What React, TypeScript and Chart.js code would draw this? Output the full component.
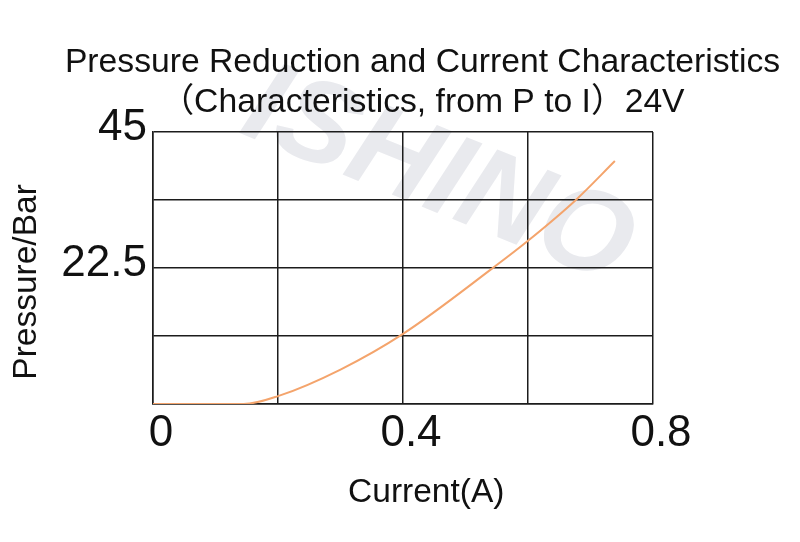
import React, { useEffect, useRef } from "react";
import { Chart, registerables } from "chart.js";

Chart.register(...registerables);

const currentA = [0, 0.145, 0.2, 0.3, 0.4, 0.545, 0.6, 0.677, 0.739];
const pressureBar = [0, 0, 1.3, 5.7, 11.6, 22.6, 27.0, 33.8, 40.2];
const xTickLabels = ["0", "0.4", "0.8"];
const yTickLabels = ["22.5", "45"];
const titleLines = [
  "Pressure Reduction and Current Characteristics",
  "（Characteristics, from P to I）24V",
];
const xAxisTitle = "Current(A)";
const yAxisTitle = "Pressure/Bar";
const watermarkText = "ISHINO";

const FONT = "'Liberation Sans', Arial, 'Noto Sans CJK SC', sans-serif";

const watermarkPlugin = {
  id: "watermark",
  beforeDraw(chart: any) {
    const ctx = chart.ctx;
    ctx.save();
    ctx.translate(438, 178);
    ctx.rotate((22 * Math.PI) / 180);
    ctx.font = `italic bold 118px ${FONT}`;
    ctx.fillStyle = "#e9eaee";
    ctx.textAlign = "center";
    ctx.textBaseline = "middle";
    ctx.fillText(watermarkText, 0, 0);
    ctx.restore();
  },
};

export default function App() {
  const ref = useRef<HTMLCanvasElement | null>(null);
  useEffect(() => {
    if (!ref.current) return;
    const match = (v: number, labels: string[]) => {
      const hit = labels.find((l) => Math.abs(parseFloat(l) - v) < 1e-6);
      return hit === undefined ? "" : hit;
    };
    const chart = new Chart(ref.current, {
      type: "line",
      data: {
        datasets: [
          {
            data: currentA.map((x, i) => ({ x, y: pressureBar[i] })),
            borderColor: "#f4a46c",
            borderWidth: 2,
            pointRadius: 0,
            tension: 0.4,
            cubicInterpolationMode: "monotone",
            fill: false,
          },
        ],
      },
      options: {
        animation: false,
        responsive: false,
        layout: { padding: { left: 45, right: 0, top: 0, bottom: 0 } },
        plugins: {
          legend: { display: false },
          tooltip: { enabled: false },
          title: {
            display: true,
            text: titleLines,
            color: "#111",
            font: { family: FONT, size: 33.7, weight: "normal", lineHeight: 1.187 },
            padding: { top: 43, bottom: 9 },
          },
        },
        scales: {
          x: {
            type: "linear",
            min: 0,
            max: 0.8,
            afterFit: (s: any) => {
              s.height = 138;
            },
            ticks: {
              stepSize: 0.2,
              autoSkip: false,
              maxRotation: 0,
              padding: 3,
              labelOffset: 8,
              color: "#111",
              font: { family: FONT, size: 44 },
              callback: (v: any) => match(Number(v), xTickLabels),
            },
            grid: { color: "#1c1c1c", lineWidth: 1.5, drawTicks: false },
            border: { color: "#1c1c1c", width: 1.5 },
            title: {
              display: true,
              text: "     " + xAxisTitle,
              color: "#111",
              font: { family: FONT, size: 33.5 },
              padding: { top: 0, bottom: 29 },
            },
          },
          y: {
            type: "linear",
            min: 0,
            max: 45,
            afterFit: (s: any) => {
              s.width = 108;
            },
            ticks: {
              stepSize: 11.25,
              autoSkip: false,
              padding: 6,
              labelOffset: -4,
              color: "#111",
              font: { family: FONT, size: 44 },
              callback: (v: any) => match(Number(v), yTickLabels),
            },
            grid: { color: "#1c1c1c", lineWidth: 1.5, drawTicks: false },
            border: { color: "#1c1c1c", width: 1.5 },
            title: {
              display: true,
              text: yAxisTitle + "   ",
              color: "#111",
              font: { family: FONT, size: 33.5 },
              padding: { top: -38, bottom: 0 },
            },
          },
          y2: {
            type: "linear",
            position: "right",
            display: true,
            afterFit: (s: any) => {
              s.width = 147;
            },
            ticks: { display: false },
            grid: { display: false, drawTicks: false },
            border: { display: false },
          },
        },
      },
      plugins: [watermarkPlugin],
    } as any);
    return () => chart.destroy();
  }, []);
  return (
    <div style={{ position: "fixed", left: 0, top: 0, width: 800, height: 542, background: "#fff" }}>
      <canvas ref={ref} width={800} height={542} style={{ width: 800, height: 542 }} />
    </div>
  );
}
